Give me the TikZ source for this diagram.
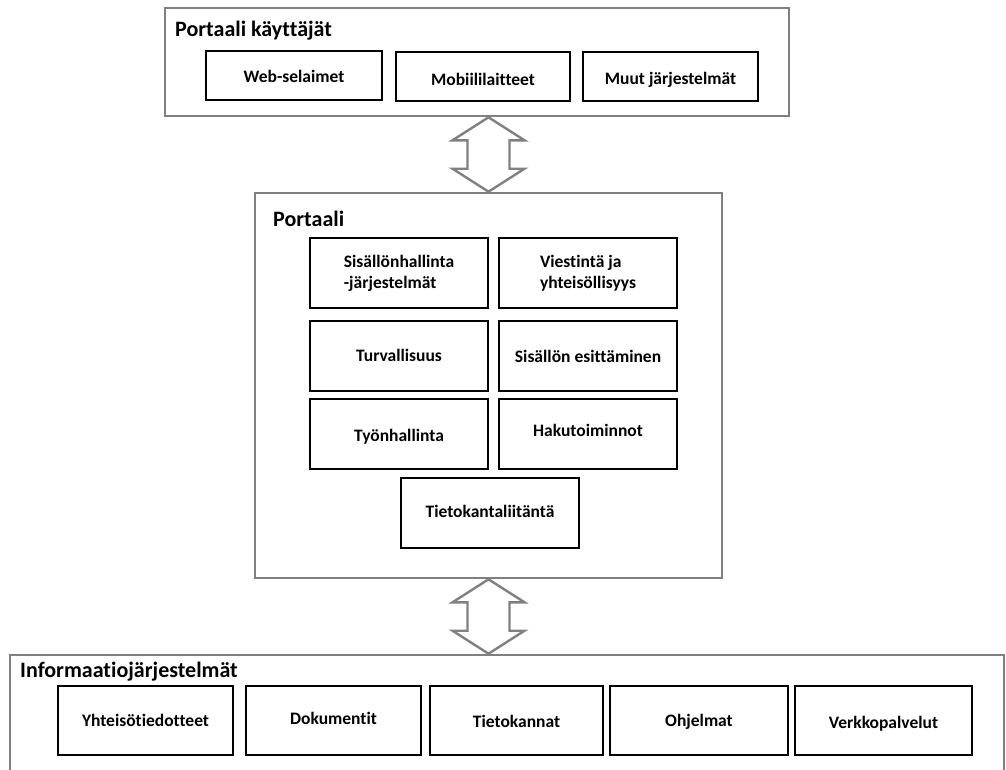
\documentclass[tikz,border=0pt]{standalone}
\usepackage{fontspec}
\setmainfont{Carlito}[Ligatures=NoCommon]
\usetikzlibrary{calc}
\definecolor{framegray}{RGB}{128,128,128}
\begin{document}
\begin{tikzpicture}[x=1pt,y=-1pt,
  panel/.style={draw=framegray, line width=2.6pt, fill=white, inner sep=0pt},
  item/.style={draw=black, line width=1.2pt, fill=white, inner sep=0pt,
    font=\bfseries\fontsize{17.5}{21}\selectfont},
  oneline/.style={text height=12.75pt, text depth=1.05pt},
  sysitem/.style={item, oneline},
  title/.style={anchor=base west, inner sep=0pt,
    font=\bfseries\fontsize{22}{26}\selectfont},
  flow/.style={draw=framegray, line width=2.4pt, fill=white, line join=miter}]
\useasboundingbox (0,0) rectangle (1006,769);
\clip (0,0) rectangle (1006,769);

% --- user tier ---
\node[panel, minimum width=624, minimum height=108] (users) at (477,62) {};
\node[title] (userstitle) at (175,36) {Portaali käyttäjät};
\node[item, oneline, text height=15.75pt, minimum width=176, minimum height=49] (web) at (294,75.5) {Web-selaimet};
\node[item, oneline, text height=19.75pt, minimum width=174, minimum height=49] (mobile) at (483,76.5) {Mobiililaitteet};
\node[item, oneline, text height=17.75pt, minimum width=175, minimum height=49] (other) at (670.5,76.5) {Muut järjestelmät};

% --- portal tier ---
\node[panel, minimum width=467, minimum height=385] (portal) at (488.5,385.5) {};
\node[title] (portaltitle) at (273,226) {Portaali};
\node[item, minimum width=178, minimum height=70, align=left] (cms) at (399,273) {Sisällönhallinta\\-järjestelmät};
\node[item, minimum width=178, minimum height=70, align=left] (comm) at (588,273) {Viestintä ja\\yhteisöllisyys};
\node[item, oneline, minimum width=178, minimum height=70] (security) at (399,356) {Turvallisuus};
\node[item, oneline, text height=14.75pt, minimum width=178, minimum height=70] (present) at (588,356) {Sisällön esittäminen};
\node[item, oneline, text height=16.75pt, minimum width=178, minimum height=70] (workflow) at (399,434) {Työnhallinta};
\node[item, oneline, text depth=7.05pt, minimum width=178, minimum height=70] (search) at (588,434) {Hakutoiminnot};
\node[item, oneline, text depth=3.05pt, minimum width=178, minimum height=70] (dbconn) at (490,513) {Tietokantaliitäntä};

% --- information systems tier ---
\node[panel, minimum width=994, minimum height=145] (info) at (507,727.5) {};
\node[title] (infotitle) at (20,677) {Informaatiojärjestelmät};
\node[sysitem, minimum width=175, minimum height=69] (news) at (145.5,720.5) {Yhteisötiedotteet};
\node[sysitem, text depth=4.05pt, minimum width=175, minimum height=69] (docs) at (333.5,720.5) {Dokumentit};
\node[sysitem, text height=15.75pt, minimum width=173, minimum height=69] (dbs) at (516.5,720.5) {Tietokannat};
\node[sysitem, minimum width=178, minimum height=69] (apps) at (699,720.5) {Ohjelmat};
\node[sysitem, text height=17.75pt, minimum width=177, minimum height=69] (websvc) at (883.5,720.5) {Verkkopalvelut};

% --- two-way block arrows between tiers ---
\draw[flow] (users.south -| portal.north) -- ++(36,23) -- ++(-15,0)
  -- ($(portal.north)+(21,-23)$) -- ++(15,0) -- (portal.north)
  -- ++(-36,-23) -- ++(15,0)
  -- ($(users.south -| portal.north)+(-21,23)$) -- ++(-15,0) -- cycle;
\draw[flow] (portal.south) -- ++(36,23) -- ++(-15,0)
  -- ($(portal.south |- info.north)+(21,-23)$) -- ++(15,0) -- (portal.south |- info.north)
  -- ++(-36,-23) -- ++(15,0)
  -- ($(portal.south)+(-21,23)$) -- ++(-15,0) -- cycle;
\end{tikzpicture}
\end{document}
